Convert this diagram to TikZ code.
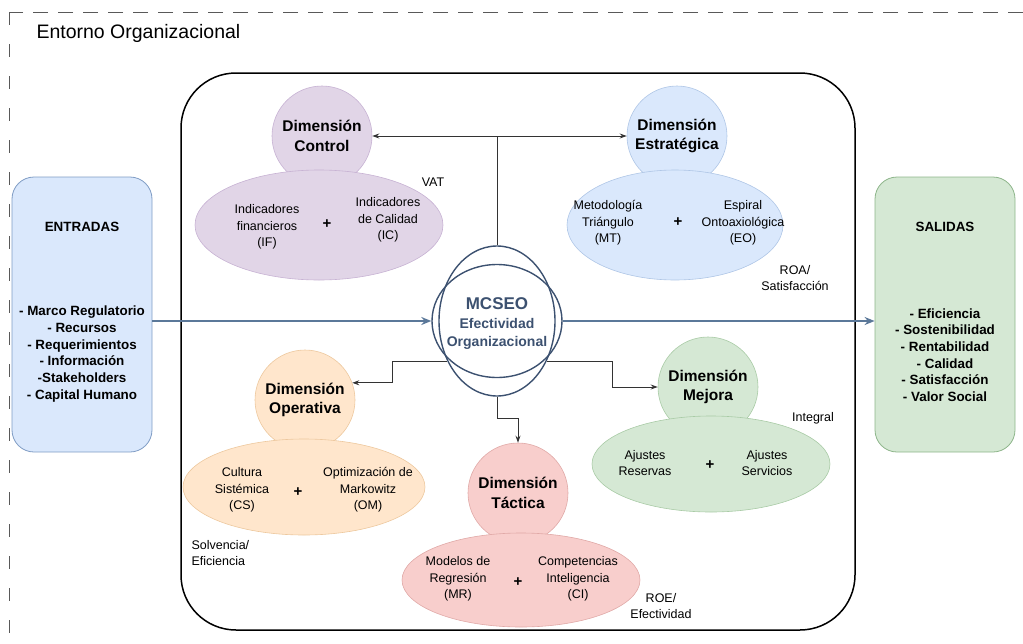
\documentclass[tikz,border=0pt]{standalone}
\usepackage{fontspec}
\setmainfont{Liberation Sans}
\usetikzlibrary{arrows.meta,positioning,calc,shapes.geometric}
\definecolor{Lila}{HTML}{E1D5E7}
\definecolor{LilaD}{HTML}{C7B2D3}
\definecolor{Celeste}{HTML}{DAE8FC}
\definecolor{CelesteD}{HTML}{AFC6E6}
\definecolor{Durazno}{HTML}{FFE6CC}
\definecolor{DuraznoD}{HTML}{EDC89E}
\definecolor{Rosa}{HTML}{F8CECC}
\definecolor{RosaD}{HTML}{E0A9A7}
\definecolor{Menta}{HTML}{D5E8D4}
\definecolor{MentaD}{HTML}{A9CBA6}
\definecolor{Pizarra}{HTML}{3C5170}
\definecolor{Acero}{HTML}{5B7899}
\definecolor{Marco}{HTML}{7F9CC4}
\definecolor{MarcoV}{HTML}{8DB58A}

\begin{document}
\begin{tikzpicture}[x=1pt,y=-1pt,
    dim/.style={circle,draw,line width=0.6pt,minimum size=100pt,inner sep=0pt,align=center,font=\fontsize{15.5}{19.5}\selectfont\bfseries},
    elp/.style={ellipse,draw,line width=0.6pt,inner sep=0pt},
    itm/.style={align=center,font=\fontsize{12.5}{16.5}\selectfont},
    pl/.style={font=\fontsize{15}{15}\selectfont\bfseries},
    lab/.style={align=center,font=\fontsize{12.5}{16.5}\selectfont},
    io/.style={draw,rounded corners=22pt,line width=0.8pt,minimum width=140pt,minimum height=275pt},
    iot/.style={align=center,font=\fontsize{13.4}{16.7}\selectfont\bfseries},
    a/.style={-{Stealth[length=7pt,width=5pt]},line width=1pt,draw=black!80},
    ioa/.style={-{Stealth[length=10pt,width=8pt]},line width=1.8pt,draw=Acero},
    mc/.style={ellipse,draw=Pizarra,line width=1.4pt,inner sep=0pt}]
  \useasboundingbox (0,0) rectangle (1023,643);
  % entorno
  \draw[black!65,line width=1pt,dash pattern=on 15pt off 10pt] (1023,12) -- (9,12);
  \draw[black!65,line width=1pt,dash pattern=on 13pt off 19pt] (9,12) -- (9,643);
  \node[anchor=west,font=\fontsize{19.5}{23}\selectfont] (env) at (33,33) {Entorno Organizacional};
  \node[draw,line width=1.5pt,rounded corners=55pt,minimum width=674pt,minimum height=557pt] (mod) at (518,351.5) {};

  % entradas y salidas
  \node[io,fill=Celeste,draw=Marco] (inp) at (82,314.5) {};
  \node[iot] (inpT) at (82,227) {ENTRADAS};
  \node[iot] (inpL) at (82,354) {- Marco Regulatorio\\- Recursos\\- Requerimientos\\- Información\\-Stakeholders\\- Capital Humano};
  \node[io,fill=Menta,draw=MarcoV] (out) at (945,314.5) {};
  \node[iot] (outT) at (945,227) {SALIDAS};
  \node[iot] (outL) at (945,355) {- Eficiencia\\- Sostenibilidad\\- Rentabilidad\\- Calidad\\- Satisfacción\\- Valor Social};

  % dimensiones
  \node[dim,fill=Lila,draw=LilaD] (ctrl) at (322,136) {Dimensión\\Control};
  \node[elp,fill=Lila,draw=LilaD,minimum width=248pt,minimum height=110pt] (ctrlE) at (319,225) {};
  \node[itm] (ctrlA) at (267,227) {Indicadores\\financieros\\(IF)};
  \node[pl] (ctrlP) at (327,224) {+};
  \node[itm] (ctrlB) at (388,220) {Indicadores\\de Calidad\\(IC)};
  \node[lab] (vat) at (433,182) {VAT};

  \node[dim,fill=Celeste,draw=CelesteD] (estr) at (677,136) {Dimensión\\Estratégica};
  \node[elp,fill=Celeste,draw=CelesteD,minimum width=216pt,minimum height=110pt] (estrE) at (675,225) {};
  \node[itm] (estrA) at (608,223) {Metodología\\Triángulo\\(MT)};
  \node[pl] (estrP) at (678,222) {+};
  \node[itm] (estrB) at (743,223) {Espiral\\Ontoaxiológica\\(EO)};
  \node[lab] (roa) at (795,278) {ROA/\\Satisfacción};

  \node[dim,fill=Durazno,draw=DuraznoD] (oper) at (305,400) {Dimensión\\Operativa};
  \node[elp,fill=Durazno,draw=DuraznoD,minimum width=242pt,minimum height=96pt] (operE) at (304,487) {};
  \node[itm] (operA) at (242,490) {Cultura\\Sistémica\\(CS)};
  \node[pl] (operP) at (298,492) {+};
  \node[itm] (operB) at (368,490) {Optimización de\\Markowitz\\(OM)};
  \node[lab,anchor=west,align=left] (solv) at (188,553) {Solvencia/\\Eficiencia};

  \node[dim,fill=Rosa,draw=RosaD] (tact) at (518,493) {Dimensión\\Táctica};
  \node[elp,fill=Rosa,draw=RosaD,minimum width=238pt,minimum height=94pt] (tactE) at (521,580) {};
  \node[itm] (tactA) at (458,579) {Modelos de\\Regresión\\(MR)};
  \node[pl] (tactP) at (518,582) {+};
  \node[itm] (tactB) at (578,579) {Competencias\\Inteligencia\\(CI)};
  \node[lab] (roe) at (661,606) {ROE/\\Efectividad};

  \node[dim,fill=Menta,draw=MentaD] (mej) at (708,387) {Dimensión\\Mejora};
  \node[elp,fill=Menta,draw=MentaD,minimum width=238pt,minimum height=96pt] (mejE) at (711,464) {};
  \node[itm] (mejA) at (645,463) {Ajustes\\Reservas};
  \node[pl] (mejP) at (710,465) {+};
  \node[itm] (mejB) at (767,463) {Ajustes\\Servicios};
  \node[lab] (intg) at (813,418) {Integral};

  % nucleo
  \node[mc,minimum width=116pt,minimum height=150pt] (mv) at (497,321) {};
  \node[mc,minimum width=130pt,minimum height=113pt] (mh) at (497,321) {};
  \node[align=center,text=Pizarra,font=\fontsize{14}{18.5}\selectfont\bfseries] (mcseo) at (497,324) {{\fontsize{17}{20}\selectfont MCSEO}\\Efectividad\\Organizacional};

  % conectores
  \draw[ioa] (inp.east |- mh.west) -- (mh.west);
  \draw[ioa] (mh.east) -- (mh.east -| out.west);
  \draw[a,-] (mv.north) -- (mv.north |- ctrl.east) coordinate (tj);
  \draw[a] (tj) -- (ctrl.east);
  \draw[a] (tj) -- (estr.west);
  \draw[a] (mv.219) -- ++(-55,0) |- (oper.20);
  \draw[a] (mv.321) -- ++(66,0) |- (mej.west);
  \draw[a] (mv.south) -- ++(0,22) -| (tact.north);
\end{tikzpicture}
\end{document}
